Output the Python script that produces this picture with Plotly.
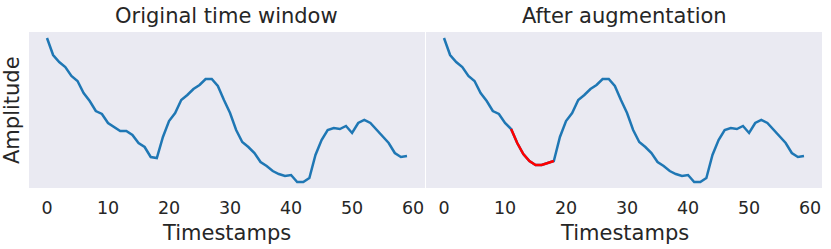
import plotly.graph_objects as go

timestamps = list(range(60))
original = [1.44, 1.27, 1.20, 1.15, 1.06, 1.01, 0.89, 0.81, 0.71, 0.68,
            0.59, 0.55, 0.51, 0.51, 0.47, 0.39, 0.35, 0.25, 0.24, 0.45,
            0.61, 0.69, 0.82, 0.87, 0.93, 0.97, 1.03, 1.03, 0.96, 0.82,
            0.69, 0.52, 0.40, 0.35, 0.29, 0.20, 0.16, 0.11, 0.08, 0.06,
            0.07, 0.00, 0.00, 0.04, 0.27, 0.42, 0.52, 0.54, 0.53, 0.56,
            0.49, 0.59, 0.62, 0.59, 0.52, 0.46, 0.39, 0.29, 0.25, 0.26]
aug_start, aug_end = 11, 18
aug_segment = [0.53, 0.39, 0.28, 0.21, 0.17, 0.17, 0.19, 0.21]
augmented = original[:aug_start] + aug_segment + original[aug_end + 1:]

x_ticks = [0, 10, 20, 30, 40, 50, 60]
titles = ["Original time window", "After augmentation"]
x_label = "Timestamps"
y_label = "Amplitude"

BLUE = "#1f77b4"
RED = "#ff0000"
BG = "#EAEAF2"
TXT = "#262626"
FONT = "DejaVu Sans"

W, H = 831, 249
def px(v):
    return v / W
def py(v):
    return 1 - v / H

fig = go.Figure()
fig.add_trace(go.Scatter(x=timestamps, y=original, mode="lines",
                         line=dict(color=BLUE, width=2.5), xaxis="x", yaxis="y",
                         showlegend=False))
fig.add_trace(go.Scatter(x=timestamps, y=augmented, mode="lines",
                         line=dict(color=BLUE, width=2.5), xaxis="x2", yaxis="y2",
                         showlegend=False))
fig.add_trace(go.Scatter(x=timestamps[aug_start:aug_end + 1], y=aug_segment, mode="lines",
                         line=dict(color=RED, width=2.5), xaxis="x2", yaxis="y2",
                         showlegend=False))

xrange = [-2.95, 61.95]
yrange = [-0.06, 1.50]
ydom = [py(188), py(32)]
common_x = dict(range=xrange, tickvals=x_ticks, showgrid=False, zeroline=False,
                showline=False, ticks="outside", ticklen=4, tickcolor="rgba(0,0,0,0)",
                tickfont=dict(family=FONT, size=17.5, color=TXT))
common_y = dict(range=yrange, showgrid=False, zeroline=False, showline=False,
                showticklabels=False, ticks="", domain=ydom)

fig.update_layout(
    width=W, height=H,
    margin=dict(l=0, r=0, t=0, b=0),
    paper_bgcolor="white", plot_bgcolor=BG,
    font=dict(family=FONT, color=TXT),
    xaxis=dict(domain=[px(29), px(425)], anchor="y", **common_x),
    yaxis=dict(anchor="x", **common_y),
    xaxis2=dict(domain=[px(426), px(822)], anchor="y2", **common_x),
    yaxis2=dict(anchor="x2", **common_y),
)

annotations = []
for (x0, x1), title in zip([(29, 425), (426, 822)], titles):
    cx = px((x0 + x1) / 2)
    annotations.append(dict(text=title, x=cx, y=py(16), xref="paper", yref="paper",
                            showarrow=False, xanchor="center", yanchor="middle",
                            font=dict(family=FONT, size=21, color=TXT)))
    annotations.append(dict(text=x_label, x=cx, y=py(233), xref="paper", yref="paper",
                            showarrow=False, xanchor="center", yanchor="middle",
                            font=dict(family=FONT, size=21, color=TXT)))
annotations.append(dict(text=y_label, x=px(12), y=py(110), xref="paper", yref="paper",
                        showarrow=False, xanchor="center", yanchor="middle", textangle=-90,
                        font=dict(family=FONT, size=21, color=TXT)))
fig.update_layout(annotations=annotations)

fig.write_html("out.html", config={"displayModeBar": False},
               post_script="document.body.style.margin='0';")
